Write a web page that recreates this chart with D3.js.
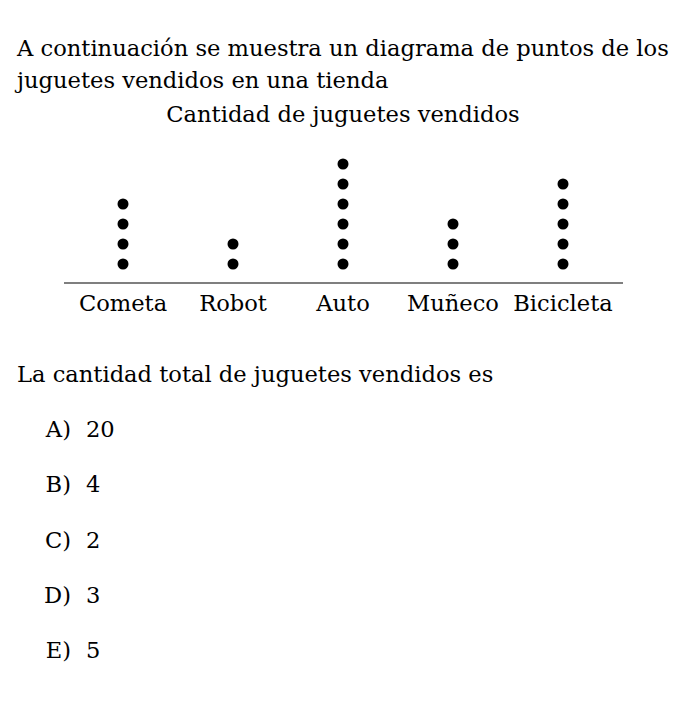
<!DOCTYPE html>
<html><head><meta charset="utf-8">
<script src="https://cdn.jsdelivr.net/npm/d3@7"></script>
<style>body{margin:0;background:#fff}</style>
</head><body>
<script>
const categories = ["Cometa","Robot","Auto","Muñeco","Bicicleta"];
const counts = [4,2,6,3,5];
const introLines = ["A continuación se muestra un diagrama de puntos de los","juguetes vendidos en una tienda"];
const chartTitle = "Cantidad de juguetes vendidos";
const question = "La cantidad total de juguetes vendidos es";
const optionLetters = ["A)","B)","C)","D)","E)"];
const optionValues = ["20","4","2","3","5"];

const W = 687, H = 702;
const font = "'DejaVu Serif', serif";
const fs = 22.6;
const svg = d3.select("body").append("svg").attr("width", W).attr("height", H)
  .style("font-family", font);

svg.selectAll("text.intro").data(introLines).join("text")
  .attr("x", 17).attr("y", (d,i)=>56+i*32)
  .attr("font-size", fs).attr("fill","#000").text(d=>d);

svg.append("text").attr("x", 343).attr("y", 122).attr("text-anchor","middle")
  .attr("font-size", fs).text(chartTitle);

const x = d3.scaleBand().domain(categories).range([68, 618]).padding(0);
const y = d3.scaleLinear().domain([0, 6]).range([284, 164]);

const axis = d3.axisBottom(x).tickSize(0).tickPadding(12);
const g = svg.append("g").attr("transform","translate(0,283)").call(axis);
g.select(".domain").attr("d","M64,0H623").attr("stroke","#000").attr("stroke-width",1.2);
g.selectAll("text").attr("font-size",fs).attr("font-family",font).attr("fill","#000");

const dots = [];
categories.forEach((c,i)=>{ for(let k=1;k<=counts[i];k++) dots.push({c,k}); });
svg.selectAll("circle").data(dots).join("circle")
  .attr("cx", d=>x(d.c)+x.bandwidth()/2)
  .attr("cy", d=>y(d.k))
  .attr("r", 5.5).attr("fill","#000");

svg.append("text").attr("x",17).attr("y",382).attr("font-size",fs).text(question);

const opt = svg.selectAll("g.opt").data(optionLetters).join("g").attr("class","opt")
  .attr("transform",(d,i)=>`translate(0,${437+i*55.3})`);
opt.append("text").attr("x",71).attr("text-anchor","end").attr("font-size",fs).text(d=>d);
opt.append("text").attr("x",86).attr("font-size",fs).text((d,i)=>optionValues[i]);
</script>
</body></html>
